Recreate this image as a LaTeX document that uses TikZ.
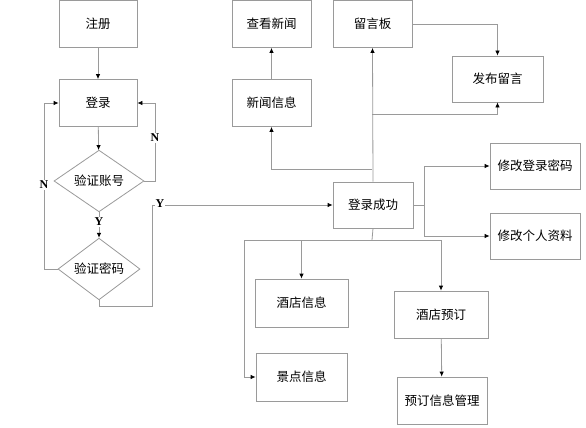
\documentclass[tikz,border=0pt]{standalone}
\usepackage{fontspec}
\setmainfont{Liberation Serif}
\newfontfamily\cjk{Noto Sans CJK SC}
\usetikzlibrary{shapes.geometric,arrows.meta}
\definecolor{ln}{HTML}{9A9A9A}
\tikzset{
  box/.style={draw=ln, line width=0.8pt, inner sep=0pt, font=\cjk\fontsize{12.5}{14}\selectfont},
  dia/.style={diamond, draw=ln, line width=0.8pt, inner sep=0pt, font=\cjk\fontsize{12.5}{14}\selectfont},
  con/.style={draw=ln, line width=0.8pt},
  arr/.style={con, -{Latex[length=5pt,width=4.5pt,color=black]}},
  lab/.style={font=\bfseries\fontsize{12}{14}\selectfont, fill=white, inner sep=1pt}
}
\begin{document}
\begin{tikzpicture}[x=1pt,y=-1pt]
\useasboundingbox (0,0) rectangle (586,428);
\fill[white] (0,0) rectangle (586,428);
% left column
\node[box, minimum width=78pt, minimum height=47pt] (zc) at (98,24) {注册};
\node[box, minimum width=78pt, minimum height=47pt] (dl) at (98,103) {登录};
\node[dia, minimum width=90pt, minimum height=46pt] (d1) at (99,181) {验证账号};
\node[dia, minimum width=82pt, minimum height=51pt] (d2) at (99,269) {验证密码};
% middle top
\node[box, minimum width=79pt, minimum height=47pt] (ck) at (271.5,24) {查看新闻};
\node[box, minimum width=79pt, minimum height=47pt] (xw) at (271.5,103) {新闻信息};
\node[box, minimum width=79pt, minimum height=47pt] (ly) at (372.5,24) {留言板};
\node[box, minimum width=91pt, minimum height=46pt] (fb) at (497.5,79) {发布留言};
% success
\node[box, minimum width=80pt, minimum height=46pt] (cg) at (373,205) {登录成功};
\node[box, minimum width=90pt, minimum height=46pt] (x1) at (535,166) {修改登录密码};
\node[box, minimum width=90pt, minimum height=46pt] (x2) at (535,236) {修改个人资料};
% bottom
\node[box, minimum width=93pt, minimum height=48pt] (jx) at (301.5,303) {酒店信息};
\node[box, minimum width=91pt, minimum height=48pt] (jj) at (301.5,377) {景点信息};
\node[box, minimum width=94pt, minimum height=47pt] (jy) at (441,314.5) {酒店预订};
\node[box, minimum width=90pt, minimum height=47pt] (yg) at (442,400.5) {预订信息管理};
% coordinates
\coordinate (c1) at (155,181);
\coordinate (c2) at (44,269);
\coordinate (c3) at (99,306);
\coordinate (c4) at (152,306);
\coordinate (c5) at (152,205);
\coordinate (t1) at (372,114);
\coordinate (t2) at (372,169);
\coordinate (r1) at (424,205);
\coordinate (b1) at (372,240);
\coordinate (b2) at (244,240);
\coordinate (b3) at (301.5,240);
\coordinate (b4) at (441,240);
% connectors
\draw[arr] (zc) -- (dl);
\draw[arr] (dl) -- (d1);
\draw[arr] (d1.east) -- (c1) |- (dl.east);
\draw[arr] (d2.west) -- (c2) |- (dl.west);
\draw[arr] (d1.south) -- (d2.north);
\draw[arr] (d2.south) -- (c3) -- (c4) -- (c5) -- (cg.west);
\node[lab] at (155,138) {N};
\node[lab] at (44,185) {N};
\node[lab] at (99,222) {Y};
\node[lab] at (160,204) {Y};
\draw[arr] (cg.north) -- (ly.south);
\draw[arr] (t1) -| (fb.south);
\draw[arr] (t2) -| (xw.south);
\draw[arr] (xw) -- (ck);
\draw[arr] (ly.east) -| (fb.north);
\draw[con] (cg.east) -- (r1);
\draw[arr] (r1) |- (x1.west);
\draw[arr] (r1) |- (x2.west);
\draw[con] (cg.south) -- (b1);
\draw[con] (b2) -- (b4);
\draw[arr] (b2) |- (jj.west);
\draw[arr] (b3) -- (jx.north);
\draw[arr] (b4) -- (jy.north);
\draw[arr] (jy) -- (yg);
\end{tikzpicture}
\end{document}
